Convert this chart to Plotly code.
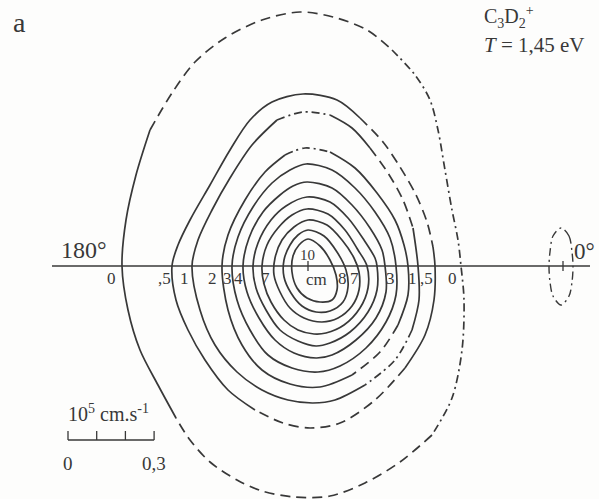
import plotly.graph_objects as go

# Digitised sheet: x to the right, y downward; centre of mass of the system.
CM_X, CM_Y = 308, 266
GRID_PER_UNIT = 287.0          # grid steps per 10^5 cm/s
SHEET_W, SHEET_H = 599, 499

# Iso-intensity contours (closed, clockwise from the top), labelled by level
LEVEL_0 = [(300, 12), (333, 17), (367, 30), (392, 50), (415, 75), (430, 100), (438, 130),
           (445, 170), (452, 210), (458, 240), (461, 266), (464, 300), (462, 350), (452, 398),
           (432, 435), (400, 462), (365, 483), (330, 496), (295, 497), (262, 491), (237, 480),
           (210, 462), (190, 440), (176, 418), (158, 385), (140, 350), (128, 310), (122, 266),
           (126, 220), (136, 175), (150, 130), (172, 93), (195, 62), (225, 38), (262, 20)]
LEVEL_05 = [(303, 94), (337, 100), (360, 118), (383, 142), (400, 167), (416, 195), (427, 222),
            (433, 247), (435, 266), (434, 300), (425, 335), (405, 368), (375, 400), (340, 423),
            (310, 428), (283, 423), (255, 410), (228, 390), (205, 360), (188, 330), (176, 300),
            (172, 266), (178, 245), (190, 220), (210, 185), (230, 150), (250, 120), (272, 102)]
LEVEL_1 = [(303, 112), (330, 115), (352, 128), (370, 148), (388, 173), (403, 200), (413, 228),
           (418, 266), (419, 300), (412, 330), (395, 360), (365, 385), (335, 400), (313, 403),
           (288, 400), (262, 390), (237, 372), (215, 345), (200, 310), (192, 266), (198, 240),
           (212, 210), (230, 178), (252, 145), (277, 120)]
LEVEL_2 = [(305, 148), (330, 152), (355, 168), (377, 193), (395, 220), (404, 245), (408, 266),
           (408, 295), (398, 325), (380, 352), (352, 375), (320, 387), (290, 384), (262, 370),
           (242, 345), (228, 310), (222, 266), (228, 235), (245, 200), (265, 172), (285, 155)]
LEVEL_3 = [(306, 164), (332, 170), (355, 188), (375, 212), (390, 238), (396, 266), (396, 295),
           (386, 322), (366, 348), (340, 366), (318, 372), (292, 368), (268, 355), (250, 330),
           (237, 300), (232, 266), (238, 237), (253, 207), (272, 183), (290, 170)]
LEVEL_4 = [(307, 182), (332, 188), (352, 205), (370, 228), (382, 250), (385, 266), (386, 292),
           (376, 318), (356, 340), (332, 355), (316, 358), (294, 353), (275, 340), (259, 318),
           (247, 292), (243, 266), (249, 238), (263, 212), (280, 195), (293, 186)]
LEVEL_5 = [(307, 197), (330, 202), (348, 218), (364, 240), (375, 258), (377, 266), (377, 290),
           (368, 312), (350, 332), (330, 343), (316, 346), (298, 341), (280, 330), (266, 310),
           (256, 288), (253, 266), (258, 243), (271, 220), (286, 206)]
LEVEL_6 = [(307, 209), (328, 214), (345, 230), (358, 250), (367, 266), (368, 288), (360, 308),
           (344, 325), (326, 333), (314, 334), (298, 330), (284, 320), (271, 302), (264, 284),
           (262, 266), (267, 245), (278, 228), (292, 215)]
LEVEL_7 = [(308, 220), (327, 225), (342, 240), (354, 258), (359, 272), (359, 290), (352, 306),
           (338, 318), (322, 322), (304, 318), (290, 308), (280, 292), (274, 275), (275, 258),
           (282, 240), (294, 227)]
LEVEL_8 = [(308, 230), (324, 236), (337, 252), (346, 270), (348, 287), (343, 302), (330, 311),
           (316, 312), (302, 306), (291, 293), (284, 277), (284, 260), (290, 245), (298, 235)]
LEVEL_9 = [(308, 239), (320, 246), (330, 260), (336, 275), (337, 290), (332, 300), (320, 302),
           (307, 298), (297, 288), (292, 272), (293, 256), (299, 245)]

# Small forward lobe near 0 degrees
LOBE = [(561, 228), (569, 236), (572, 252), (573, 266), (572, 282), (569, 296), (561, 305),
        (553, 296), (550, 282), (549, 266), (550, 252), (553, 236)]
LOBE_CENTRE = (563, 266)

# Line style of each contour piece: (first index, last index, style)
CONTOUR_PIECES = [
    (LEVEL_0, [(23, 30, "solid"), (30, 3, "dash"), (3, 14, "dashdot"), (14, 23, "dash")]),
    (LEVEL_05, [(16, 2, "solid"), (2, 7, "dash"), (7, 11, "solid"), (11, 16, "dash")]),
    (LEVEL_1, [(24, 1, "dashdot"), (1, 3, "solid"), (3, 6, "dash"), (6, 9, "solid"),
               (9, 11, "dashdot"), (11, 24, "solid")]),
    (LEVEL_2, [(20, 1, "dashdot"), (1, 8, "solid"), (8, 10, "dash"), (10, 20, "solid")]),
    (LEVEL_3, None), (LEVEL_4, None), (LEVEL_5, None), (LEVEL_6, None),
    (LEVEL_7, None), (LEVEL_8, None), (LEVEL_9, None),
]

# Level labels written along the axis
AXIS_LABELS = ["0", ",5", "1", "2", "3", "4", "7", "8", "7", "3", "1", ",5", "0"]
AXIS_LABEL_X = [111, 164, 184, 212, 227, 238, 265, 342, 354, 390, 412, 426, 452]
AXIS_LABEL_Y = 278

# Velocity scale bar (10^5 cm/s)
SCALE_TICKS = [0.0, 0.1, 0.2, 0.3]
SCALE_TICK_TEXT = ["0", "", "", "0,3"]
SCALE_ORIGIN = (68, 440)

INK = "#383838"
DASHES = {"solid": "solid", "dash": "10px,6px", "dashdot": "8px,4px,2px,4px"}


def vx(px):
    return (px - CM_X) / GRID_PER_UNIT


def vy(py):
    return (CM_Y - py) / GRID_PER_UNIT


def piece(pts, i0, i1):
    return pts[i0:i1 + 1] if i1 >= i0 else pts[i0:] + pts[:i1 + 1]


def add_line(fig, pts, dash="solid", width=1.7, shape="spline"):
    fig.add_trace(go.Scatter(
        x=[vx(p[0]) for p in pts], y=[vy(p[1]) for p in pts],
        mode="lines", line=dict(color=INK, width=width, dash=DASHES[dash], shape=shape,
                                smoothing=0.9),
        hoverinfo="skip", showlegend=False))


fig = go.Figure()

for pts, pieces in CONTOUR_PIECES:
    if pieces is None:
        add_line(fig, pts + [pts[0]])
    else:
        for i0, i1, style in pieces:
            add_line(fig, piece(pts, i0, i1), style)

add_line(fig, LOBE + [LOBE[0]], "dashdot", width=1.4)

# 180 deg - 0 deg axis
add_line(fig, [(52, CM_Y), (590, CM_Y)], width=1.5, shape="linear")

# crosses at the centre of mass and the lobe
for cx, cy in [(CM_X, CM_Y), LOBE_CENTRE]:
    add_line(fig, [(cx, cy - 5), (cx, cy + 5)], width=1.3, shape="linear")

# scale bar
ox, oy = SCALE_ORIGIN
bar_x = [vx(ox) + t for t in SCALE_TICKS]
fig.add_trace(go.Scatter(x=[bar_x[0], bar_x[-1]], y=[vy(oy)] * 2, mode="lines",
                         line=dict(color=INK, width=1.3), hoverinfo="skip", showlegend=False))
for bx in bar_x:
    fig.add_trace(go.Scatter(x=[bx, bx], y=[vy(oy), vy(oy - 9)], mode="lines",
                             line=dict(color=INK, width=1.3), hoverinfo="skip",
                             showlegend=False))

SERIF = "Liberation Serif"


def label(fig, px, py, text, size, anchor="center"):
    fig.add_annotation(x=vx(px), y=vy(py), text=text, showarrow=False, xanchor=anchor,
                       yanchor="middle", font=dict(family=SERIF, size=size, color=INK))


for t, lx in zip(AXIS_LABELS, AXIS_LABEL_X):
    label(fig, lx, AXIS_LABEL_Y, t, 17)

for t, bx in zip(SCALE_TICK_TEXT, bar_x):
    if t:
        fig.add_annotation(x=bx, y=vy(463), text=t, showarrow=False, xanchor="center",
                           yanchor="middle", font=dict(family=SERIF, size=19, color=INK))

label(fig, 66, 413, "10<sup>5</sup> cm.s<sup>-1</sup>", 20, "left")
label(fig, 19, 22, "a", 28)
label(fig, 84, 250, "180°", 24)
label(fig, 584, 251, "0°", 23)
label(fig, 307, 255, "10", 15)
label(fig, 316, 279, "cm", 17)
label(fig, 482, 17, "C<sub>3</sub>D<sub>2</sub><sup>+</sup>", 20, "left")
label(fig, 482, 45, "<i>T</i> = 1,45 eV", 21, "left")

fig.update_layout(
    width=SHEET_W, height=SHEET_H,
    margin=dict(l=0, r=0, t=0, b=0, pad=0),
    paper_bgcolor="#fdfdfc", plot_bgcolor="#fdfdfc",
    xaxis=dict(range=[vx(0), vx(SHEET_W)], visible=False, fixedrange=True),
    yaxis=dict(range=[vy(SHEET_H), vy(0)], visible=False, fixedrange=True),
)

fig.write_html("out.html")
